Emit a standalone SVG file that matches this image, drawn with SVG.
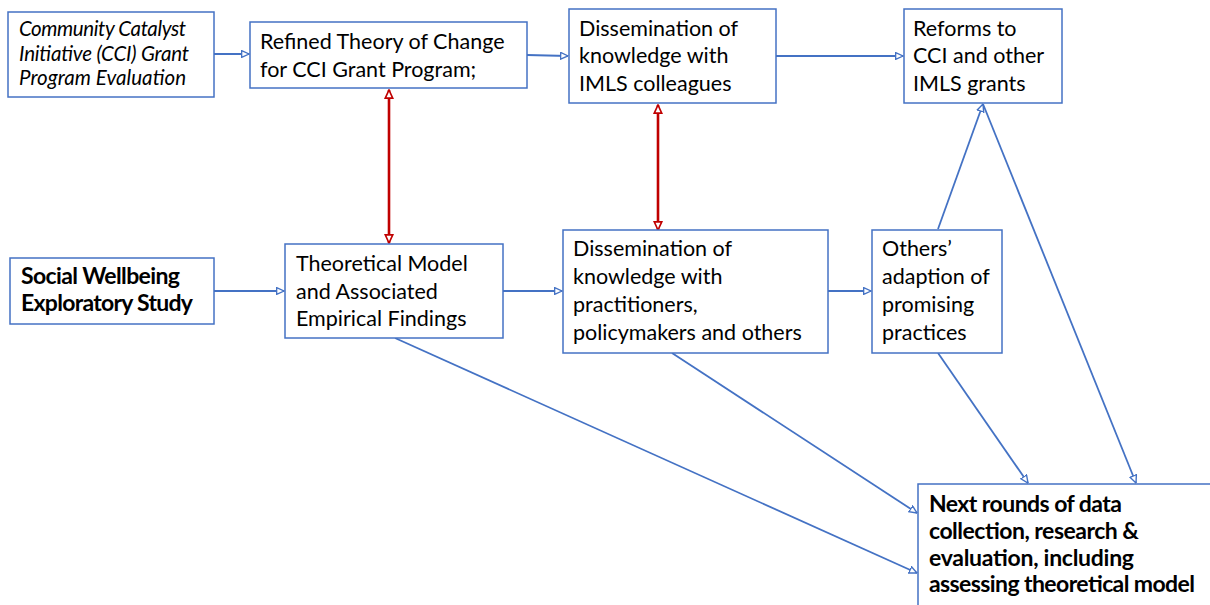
<svg xmlns="http://www.w3.org/2000/svg" width="1210" height="605" viewBox="0 0 1210 605">
<defs>
<style>
.box{fill:#fff;stroke:#4472C4;stroke-width:1.5}
.t{font-family:Lato,"Open Sans","Liberation Sans",sans-serif;font-size:21.5px;fill:#000}
.ti{font-family:Lato,"Liberation Sans",sans-serif;font-size:20.5px;font-style:italic;fill:#000}
.tb{font-family:Lato,"Liberation Sans",sans-serif;font-size:23px;font-weight:bold;fill:#000}
.c{fill:none;stroke:#4472C4;stroke-width:2}
.d{fill:none;stroke:#4472C4;stroke-width:1.8}
.r{fill:none;stroke:#C00000;stroke-width:2.6}
</style>
<marker id="ab" viewBox="0 0 8 8" refX="7.5" refY="4" markerWidth="4.2" markerHeight="4.2" orient="auto" markerUnits="strokeWidth">
<path d="M0.5,0.8 L7.5,4 L0.5,7.2 z" fill="#fff" stroke="#4472C4" stroke-width="1.3"/>
</marker>
<marker id="ad" viewBox="0 0 8 8" refX="7.5" refY="4" markerWidth="4.8" markerHeight="4.8" orient="auto" markerUnits="strokeWidth">
<path d="M0.5,0.8 L7.5,4 L0.5,7.2 z" fill="#fff" stroke="#4472C4" stroke-width="1.3"/>
</marker>
<marker id="ar" viewBox="0 0 8 8" refX="7.5" refY="4" markerWidth="3.6" markerHeight="3.6" orient="auto-start-reverse" markerUnits="strokeWidth">
<path d="M0.5,0.8 L7.5,4 L0.5,7.2 z" fill="#fff" stroke="#C00000" stroke-width="1.4"/>
</marker>
</defs>
<rect width="1210" height="605" fill="#fff"/>

<g id="connectors">
<line class="c" x1="214" y1="54" x2="249" y2="54" marker-end="url(#ab)"/>
<line class="c" x1="527" y1="55" x2="568" y2="56" marker-end="url(#ab)"/>
<line class="c" x1="776" y1="56" x2="903" y2="56" marker-end="url(#ab)"/>
<line class="c" x1="214" y1="291" x2="284" y2="291" marker-end="url(#ab)"/>
<line class="c" x1="503" y1="291" x2="562" y2="291" marker-end="url(#ab)"/>
<line class="c" x1="828" y1="291" x2="871" y2="291" marker-end="url(#ab)"/>
<line class="r" x1="389" y1="90" x2="389" y2="243" marker-start="url(#ar)" marker-end="url(#ar)"/>
<line class="r" x1="658" y1="105" x2="658" y2="230" marker-start="url(#ar)" marker-end="url(#ar)"/>
<line class="d" x1="938" y1="229" x2="983" y2="104" marker-end="url(#ad)"/>
<line class="d" x1="983" y1="104" x2="1136" y2="483" marker-end="url(#ad)"/>
<line class="d" x1="938" y1="353" x2="1028" y2="483" marker-end="url(#ad)"/>
<line class="d" x1="672" y1="353" x2="917" y2="513" marker-end="url(#ad)"/>
<line class="d" x1="395" y1="338" x2="917" y2="573" marker-end="url(#ad)"/>
</g>

<g id="cci">
<rect class="box" x="8" y="12" width="206" height="85"/>
<text class="ti" x="19" y="36" textLength="167" lengthAdjust="spacing">Community Catalyst</text>
<text class="ti" x="19" y="61" textLength="170" lengthAdjust="spacing">Initiative (CCI) Grant</text>
<text class="ti" x="19" y="85" textLength="167" lengthAdjust="spacing">Program Evaluation</text>
</g>

<g id="refined">
<rect class="box" x="250" y="22" width="277" height="66"/>
<text class="t" x="260" y="49">Refined Theory of Change</text>
<text class="t" x="260" y="76.5">for CCI Grant Program;</text>
</g>

<g id="imls">
<rect class="box" x="569" y="9" width="207" height="94"/>
<text class="t" x="579" y="35.5">Dissemination of</text>
<text class="t" x="579" y="63">knowledge with</text>
<text class="t" x="579" y="90.5">IMLS colleagues</text>
</g>

<g id="reforms">
<rect class="box" x="904" y="9" width="158" height="94"/>
<text class="t" x="913" y="35.5">Reforms to</text>
<text class="t" x="913" y="63">CCI and other</text>
<text class="t" x="913" y="90.5">IMLS grants</text>
</g>

<g id="social">
<rect class="box" x="10" y="258" width="204" height="66"/>
<text class="tb" x="21" y="284" textLength="159" lengthAdjust="spacing">Social Wellbeing</text>
<text class="tb" x="21" y="311" textLength="172" lengthAdjust="spacing">Exploratory Study</text>
</g>

<g id="theoretical">
<rect class="box" x="285" y="244" width="218" height="94"/>
<text class="t" x="296" y="271">Theoretical Model</text>
<text class="t" x="296" y="298.5">and Associated</text>
<text class="t" x="296" y="326">Empirical Findings</text>
</g>

<g id="practitioners">
<rect class="box" x="563" y="230" width="265" height="123"/>
<text class="t" x="573" y="256">Dissemination of</text>
<text class="t" x="573" y="284">knowledge with</text>
<text class="t" x="573" y="312">practitioners,</text>
<text class="t" x="573" y="340">policymakers and others</text>
</g>

<g id="others">
<rect class="box" x="872" y="230" width="130" height="123"/>
<text class="t" x="882" y="256">Others’</text>
<text class="t" x="882" y="284">adaption of</text>
<text class="t" x="882" y="312">promising</text>
<text class="t" x="882" y="340">practices</text>
</g>

<g id="next">
<rect class="box" x="918" y="484" width="320" height="140"/>
<text class="tb" x="929" y="512" textLength="193" lengthAdjust="spacing">Next rounds of data</text>
<text class="tb" x="929" y="538.5" textLength="210" lengthAdjust="spacing">collection, research &amp;</text>
<text class="tb" x="929" y="565.5" textLength="205" lengthAdjust="spacing">evaluation, including</text>
<text class="tb" x="929" y="592" textLength="266" lengthAdjust="spacing">assessing theoretical model</text>
</g>
</svg>
